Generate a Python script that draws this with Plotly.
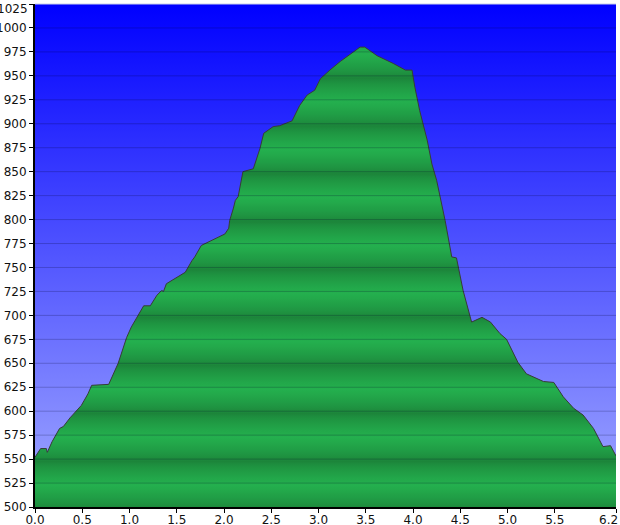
import base64
import plotly.graph_objects as go

# ---- data ----
distance_km = [0.00, 0.06, 0.12, 0.13, 0.18, 0.26, 0.30, 0.37, 0.49, 0.56, 0.60,
               0.78, 0.88, 0.97, 1.02, 1.09, 1.15, 1.22, 1.29, 1.34, 1.36, 1.39,
               1.59, 1.66, 1.69, 1.76, 1.87, 2.01, 2.05, 2.06, 2.10, 2.12, 2.15,
               2.20, 2.31, 2.38, 2.42, 2.52, 2.59, 2.72, 2.80, 2.88, 2.96, 3.02,
               3.12, 3.23, 3.37, 3.44, 3.49, 3.62, 3.79, 3.92, 3.99, 4.02, 4.07,
               4.15, 4.20, 4.25, 4.34, 4.41, 4.46, 4.53, 4.62, 4.73, 4.82, 4.92,
               4.99, 5.11, 5.20, 5.38, 5.49, 5.59, 5.70, 5.80, 5.91, 6.01, 6.09,
               6.15]
elevation_m = [552, 561, 561, 557, 568, 582, 584, 593, 606, 618, 627,
               628, 650, 677, 688, 700, 710, 710, 721, 726, 725, 733,
               745, 757, 761, 773, 778, 785, 791, 799, 812, 820, 824,
               850, 853, 874, 890, 897, 898, 903, 919, 930, 935, 947,
               956, 965, 975, 980, 980, 971, 963, 956, 956, 938, 914,
               883, 858, 841, 799, 761, 760, 726, 693, 698, 693, 681,
               675, 651, 639, 631, 630, 615, 603, 596, 582, 563, 564,
               553]

y_tickvals = [500, 525, 550, 575, 600, 625, 650, 675, 700, 725, 750, 775, 800,
              825, 850, 875, 900, 925, 950, 975, 1000, 1025]
y_ticktext = ["500", "525", "550", "575", "600", "625", "650", "675", "700",
              "725", "750", "775", "800", "825", "850", "875", "900", "925",
              "950", "975", "1000", "1025"]
x_tickvals = [0.0, 0.5, 1.0, 1.5, 2.0, 2.5, 3.0, 3.5, 4.0, 4.5, 5.0, 5.5, 6.148]
x_ticktext = ["0.0", "0.5", "1.0", "1.5", "2.0", "2.5", "3.0", "3.5", "4.0",
              "4.5", "5.0", "5.5", "6.2"]

# ---- styles ----
Y_MIN, Y_MAX = y_tickvals[0], y_tickvals[-1]
X_MAX = x_tickvals[-1]
DARK = (27, 130, 57)
LIGHT = (36, 176, 78)
PERIOD = 50
DARK_OFFSET = -2  # darkest just below each multiple of 50
FONT = dict(family="DejaVu Sans", size=12, color="#111")


def mix(a, b, t):
    return "rgb(%d,%d,%d)" % tuple(round(a[i] + (b[i] - a[i]) * t) for i in range(3))


# striped (rounded triangle-wave) colorscale for the terrain fill
stops = []
v = Y_MIN
step = 2.5
while v <= Y_MAX + 1e-9:
    phase = ((v - DARK_OFFSET) % PERIOD) / PERIOD  # 0 at darkest
    t = 1 - abs(1 - 2 * phase)  # 0 dark -> 1 light -> 0 dark
    t = t ** 0.7
    stops.append([(v - Y_MIN) / (Y_MAX - Y_MIN), mix(DARK, LIGHT, t)])
    v += step
stops[-1][0] = 1.0

bg_svg = ('<svg xmlns="http://www.w3.org/2000/svg" width="100" height="100" '
          'preserveAspectRatio="none"><defs><linearGradient id="g" x1="0" y1="0" '
          'x2="0" y2="1"><stop offset="0" stop-color="#0000FF"/>'
          '<stop offset="1" stop-color="#A2AAFF"/></linearGradient></defs>'
          '<rect width="100" height="100" fill="url(#g)"/></svg>')
bg_src = "data:image/svg+xml;base64," + base64.b64encode(bg_svg.encode()).decode()

fig = go.Figure()
fig.add_trace(go.Scatter(
    x=distance_km, y=elevation_m, mode="lines",
    line=dict(color="rgb(55,60,55)", width=1),
    fill="tozeroy",
    fillgradient=dict(type="vertical", colorscale=stops, start=Y_MIN, stop=Y_MAX),
    hoverinfo="skip", showlegend=False,
))

shapes = []
for yv in y_tickvals[1:-1]:
    shapes.append(dict(type="line", xref="paper", x0=0, x1=1, yref="y", y0=yv, y1=yv,
                       line=dict(color="rgba(0,0,40,0.22)", width=1), layer="above"))
# light top border
shapes.append(dict(type="line", xref="paper", x0=0, x1=1, yref="paper", y0=1, y1=1,
                   line=dict(color="rgb(200,205,235)", width=1), layer="above"))

# edge labels that the reference nudges inward to stay inside the image
annotations = [
    dict(text=y_ticktext[-1], xref="paper", yref="paper", x=0, y=1,
         xanchor="right", yanchor="top", xshift=-5, yshift=4, showarrow=False,
         font=FONT),
    dict(text=x_ticktext[-1], xref="paper", yref="paper", x=1, y=0,
         xanchor="right", yanchor="top", xshift=4, yshift=-4, showarrow=False,
         font=FONT),
]
y_text_axis = y_ticktext[:-1] + [""]
x_text_axis = x_ticktext[:-1] + [""]

fig.update_layout(
    template="none",
    width=620, height=525,
    margin=dict(l=35, r=4, t=4, b=18, pad=0),
    paper_bgcolor="white",
    plot_bgcolor="rgba(0,0,0,0)",
    font=FONT,
    images=[dict(source=bg_src, xref="paper", yref="paper", x=0, y=1,
                 sizex=1, sizey=1, sizing="stretch", layer="below",
                 xanchor="left", yanchor="top")],
    shapes=shapes,
    annotations=annotations,
    xaxis=dict(range=[0, X_MAX], tickvals=x_tickvals, ticktext=x_text_axis,
               automargin=False, ticklabeloverflow="allow", ticklabelstandoff=-3,
               showgrid=False, zeroline=False, showline=True, linecolor="black",
               linewidth=2, ticks="outside", ticklen=4, tickcolor="black",
               tickwidth=1, layer="above traces"),
    yaxis=dict(range=[Y_MIN, Y_MAX], tickvals=y_tickvals, ticktext=y_text_axis,
               automargin=False, ticklabeloverflow="allow", showgrid=False,
               zeroline=False, showline=True, linecolor="black", linewidth=2,
               ticks="outside", ticklen=4, tickcolor="black", tickwidth=1,
               layer="above traces"),
)

fig.write_html("out.html", config={"displayModeBar": False},
               post_script="document.body.style.margin='0';"
                           "document.body.style.overflow='hidden';")
